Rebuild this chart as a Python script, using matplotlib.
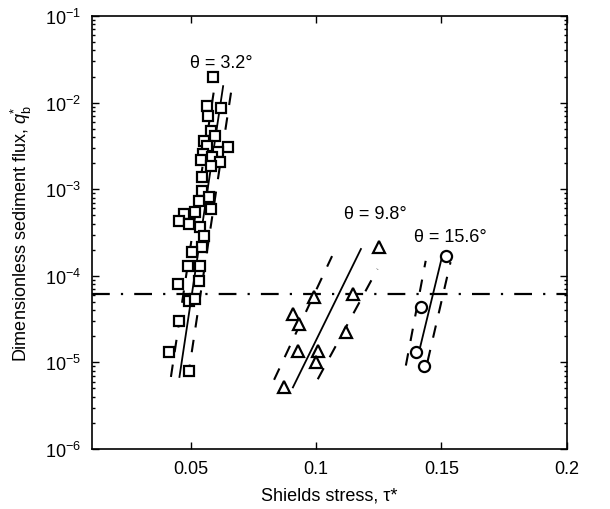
import matplotlib

matplotlib.use("Agg")
import matplotlib.pyplot as plt
from matplotlib.ticker import FixedLocator, FixedFormatter, LogLocator, NullFormatter

plt.rcParams["font.family"] = ["Liberation Sans", "DejaVu Sans"]
plt.rcParams["mathtext.fontset"] = "custom"
plt.rcParams["mathtext.rm"] = "Liberation Sans"
plt.rcParams["mathtext.it"] = "Liberation Sans:italic"
plt.rcParams["axes.unicode_minus"] = False

# theta = 3.2 deg (squares)
shields_a = [0.0591, 0.0564, 0.0623, 0.0571, 0.0583, 0.0599, 0.0552, 0.0567, 0.0651, 0.0548,
             0.0611, 0.0587, 0.0540, 0.0619, 0.0583, 0.0544, 0.0544, 0.0575, 0.0532, 0.0583,
             0.0516, 0.0476, 0.0456, 0.0496, 0.0536, 0.0552, 0.0544, 0.0504, 0.0492, 0.0536,
             0.0532, 0.0452, 0.0496, 0.0516, 0.0456, 0.0413, 0.0496]
flux_a = [1.98e-2, 9.1e-3, 8.7e-3, 7.0e-3, 4.7e-3, 4.1e-3, 3.6e-3, 3.15e-3, 3.07e-3, 2.55e-3,
          2.69e-3, 2.35e-3, 2.17e-3, 2.06e-3, 1.85e-3, 1.38e-3, 9.5e-4, 8.1e-4, 7.3e-4, 5.9e-4,
          5.5e-4, 5.2e-4, 4.3e-4, 3.96e-4, 3.66e-4, 2.88e-4, 2.15e-4, 1.88e-4, 1.30e-4, 1.30e-4,
          8.7e-5, 8.0e-5, 5.1e-5, 5.4e-5, 3.0e-5, 1.32e-5, 7.96e-6]

# theta = 9.8 deg (triangles)
shields_b = [0.1251, 0.0993, 0.1146, 0.0910, 0.0934, 0.1119, 0.0928, 0.1009, 0.1000, 0.0874]
flux_b = [2.13e-4, 5.65e-5, 6.17e-5, 3.62e-5, 2.77e-5, 2.22e-5, 1.36e-5, 1.36e-5, 1.0e-5, 5.15e-6]

# theta = 15.6 deg (circles)
shields_c = [0.1516, 0.1417, 0.1397, 0.1430]
flux_c = [1.71e-4, 4.33e-5, 1.31e-5, 9.2e-6]

# fits: (x0, x1), (q0, q1)
fit_a = ([0.0456, 0.0630], [6.8e-6, 1.55e-2])
lo_a = ([0.0422, 0.0596], [6.8e-6, 1.55e-2])
hi_a = ([0.0490, 0.0666], [6.8e-6, 1.60e-2])

fit_b = ([0.0908, 0.1179], [5.15e-6, 2.04e-4])
lo_b = ([0.0833, 0.1064], [6.3e-6, 1.69e-4])
hi_b = ([0.1007, 0.1245], [6.4e-6, 1.20e-4])

fit_c = ([0.1410, 0.1503], [1.31e-5, 1.70e-4])
lo_c = ([0.1358, 0.1437], [9.2e-6, 1.49e-4])
hi_c = ([0.1444, 0.1536], [1.01e-5, 1.44e-4])

threshold = 6.2e-5

labels = ["θ = 3.2°", "θ = 9.8°", "θ = 15.6°"]
label_x = [0.0623, 0.1238, 0.1536]
label_q = [2.94e-2, 5.18e-4, 2.88e-4]

fig = plt.figure(figsize=(6.1, 5.1), dpi=100)
ax = fig.add_axes([0.151, 0.1176, 0.7785, 0.849])

dash = (0, (6, 6))
for fit, lo, hi in [(fit_a, lo_a, hi_a), (fit_b, lo_b, hi_b), (fit_c, lo_c, hi_c)]:
    ax.plot(fit[0], fit[1], color="k", lw=1.3, zorder=2)
    ax.plot(lo[0], lo[1], color="k", lw=1.5, linestyle=dash, zorder=2)
    ax.plot(hi[0], hi[1], color="k", lw=1.5, linestyle=dash, zorder=2)

ax.axhline(threshold, color="k", lw=1.6, linestyle=(0, (8, 5, 1, 5)), zorder=1)

ax.plot(shields_a, flux_a, "s", ms=7.8, mfc="white", mec="k", mew=1.6, zorder=3)
ax.plot(shields_b, flux_b, "^", ms=9, mfc="white", mec="k", mew=1.6, zorder=3)
ax.plot(shields_c, flux_c, "o", ms=8, mfc="white", mec="k", mew=1.6, zorder=3)

for t, x, q in zip(labels, label_x, label_q):
    ax.text(x, q, t, ha="center", va="center", fontsize=13)

ax.set_yscale("log")
ax.set_xlim(0.0108, 0.2)
ax.set_ylim(1e-6, 1e-1)

ax.xaxis.set_major_locator(FixedLocator([0.05, 0.1, 0.15, 0.2]))
ax.xaxis.set_major_formatter(FixedFormatter(["0.05", "0.1", "0.15", "0.2"]))
ax.yaxis.set_major_locator(LogLocator(base=10, numticks=10))
ax.yaxis.set_minor_locator(LogLocator(base=10, subs=range(2, 10), numticks=10))
ax.yaxis.set_minor_formatter(NullFormatter())

ax.tick_params(which="both", direction="in", top=True, right=True, labelsize=13, width=1)
ax.tick_params(which="major", length=5, pad=8)
ax.tick_params(which="minor", length=2.5)
for s in ax.spines.values():
    s.set_linewidth(1.2)

ax.set_xlabel("Shields stress, τ*", fontsize=13, labelpad=7)
ax.set_ylabel(r"Dimensionless sediment flux, $q_\mathrm{b}^{*}$", fontsize=13, labelpad=8)

fig.savefig("out.png", dpi=100)
plt.close(fig)
